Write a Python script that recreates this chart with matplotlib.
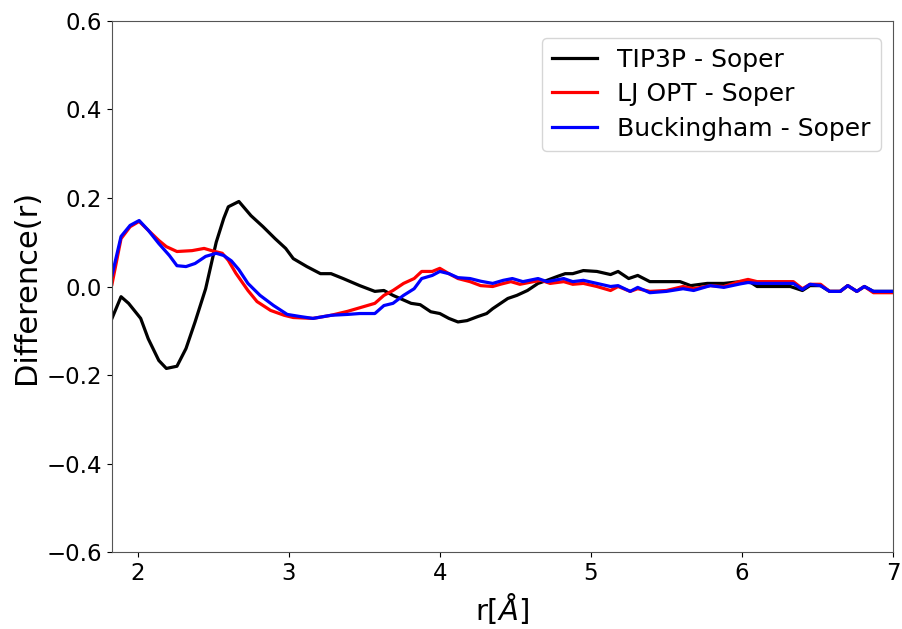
import matplotlib
matplotlib.use("Agg")
import matplotlib.pyplot as plt

# TIP3P - Soper
r_tip3p = [1.83, 1.89, 1.94, 2.02, 2.07, 2.14, 2.19, 2.26, 2.32, 2.38, 2.45, 2.52,
           2.57, 2.60, 2.67, 2.75, 2.83, 2.91, 2.98, 3.03, 3.12, 3.21, 3.28, 3.36,
           3.47, 3.57, 3.63, 3.69, 3.81, 3.87, 3.94, 4.00, 4.06, 4.12, 4.18, 4.25,
           4.31, 4.35, 4.45, 4.51, 4.58, 4.65, 4.71, 4.78, 4.83, 4.88, 4.95, 5.04,
           5.13, 5.18, 5.25, 5.31, 5.39, 5.50, 5.59, 5.66, 5.77, 5.88, 5.99, 6.05,
           6.10, 6.21, 6.32, 6.40, 6.45, 6.52, 6.58, 6.65, 6.70, 6.76, 6.81, 6.87, 7.00]
d_tip3p = [-0.072, -0.023, -0.038, -0.072, -0.118, -0.167, -0.185, -0.18, -0.14, -0.08, -0.005, 0.10,
           0.154, 0.18, 0.192, 0.16, 0.135, 0.108, 0.086, 0.063, 0.045, 0.029, 0.029, 0.018,
           0.002, -0.011, -0.009, -0.02, -0.038, -0.041, -0.057, -0.061, -0.072, -0.08, -0.077, -0.068,
           -0.061, -0.05, -0.027, -0.02, -0.009, 0.007, 0.014, 0.023, 0.029, 0.029, 0.036, 0.034,
           0.027, 0.034, 0.018, 0.025, 0.011, 0.011, 0.011, 0.002, 0.007, 0.007, 0.011, 0.011,
           0.0, 0.0, 0.0, -0.009, 0.002, 0.002, -0.011, -0.011, 0.002, -0.011, 0.0, -0.011, -0.011]

# LJ OPT - Soper
r_lj = [1.83, 1.89, 1.95, 2.01, 2.07, 2.14, 2.19, 2.26, 2.36, 2.44, 2.49, 2.56,
        2.60, 2.65, 2.73, 2.79, 2.88, 2.97, 3.03, 3.16, 3.28, 3.39, 3.47, 3.57,
        3.63, 3.69, 3.76, 3.83, 3.88, 3.95, 4.00, 4.06, 4.12, 4.20, 4.27, 4.35,
        4.40, 4.47, 4.53, 4.62, 4.67, 4.73, 4.82, 4.88, 4.95, 5.04, 5.13, 5.18,
        5.26, 5.31, 5.39, 5.50, 5.61, 5.68, 5.79, 5.88, 5.99, 6.04, 6.10, 6.21,
        6.34, 6.40, 6.45, 6.52, 6.58, 6.65, 6.70, 6.76, 6.81, 6.87, 7.00]
d_lj = [0.005, 0.108, 0.135, 0.147, 0.127, 0.104, 0.09, 0.079, 0.081, 0.086, 0.081, 0.075,
        0.059, 0.03, -0.009, -0.034, -0.054, -0.065, -0.07, -0.072, -0.065, -0.056, -0.048, -0.038,
        -0.02, -0.009, 0.007, 0.018, 0.034, 0.034, 0.041, 0.029, 0.018, 0.011, 0.002, 0.0,
        0.005, 0.011, 0.005, 0.011, 0.014, 0.007, 0.011, 0.005, 0.007, 0.0, -0.009, 0.0,
        -0.011, -0.005, -0.011, -0.009, 0.0, -0.005, 0.002, 0.0, 0.012, 0.016, 0.011, 0.011,
        0.011, -0.005, 0.005, 0.005, -0.011, -0.011, 0.002, -0.011, 0.0, -0.014, -0.014]

# Buckingham - Soper
r_buck = [1.83, 1.89, 1.95, 2.01, 2.07, 2.14, 2.21, 2.26, 2.32, 2.38, 2.45, 2.52,
          2.57, 2.62, 2.67, 2.73, 2.81, 2.90, 2.99, 3.08, 3.16, 3.28, 3.39, 3.47,
          3.57, 3.63, 3.69, 3.76, 3.83, 3.88, 3.95, 4.00, 4.06, 4.12, 4.20, 4.27,
          4.35, 4.42, 4.48, 4.55, 4.65, 4.71, 4.82, 4.88, 4.95, 5.04, 5.13, 5.18,
          5.26, 5.31, 5.39, 5.50, 5.61, 5.68, 5.79, 5.88, 5.99, 6.04, 6.10, 6.34,
          6.40, 6.45, 6.52, 6.58, 6.65, 6.70, 6.76, 6.81, 6.87, 7.00]
d_buck = [0.025, 0.113, 0.138, 0.149, 0.127, 0.097, 0.07, 0.047, 0.045, 0.052, 0.068, 0.075,
          0.07, 0.058, 0.038, 0.007, -0.02, -0.043, -0.063, -0.068, -0.072, -0.065, -0.063, -0.061,
          -0.061, -0.043, -0.038, -0.02, -0.005, 0.018, 0.025, 0.034, 0.029, 0.02, 0.018, 0.012,
          0.007, 0.014, 0.018, 0.011, 0.018, 0.011, 0.018, 0.011, 0.014, 0.007, 0.0, 0.002,
          -0.011, -0.002, -0.014, -0.011, -0.005, -0.009, 0.002, -0.002, 0.006, 0.009, 0.007, 0.007,
          -0.007, 0.005, 0.002, -0.011, -0.011, 0.002, -0.011, 0.0, -0.011, -0.011]

fig = plt.figure(figsize=(9.03, 6.29), dpi=100)
ax = fig.add_axes([0.124, 0.122, 0.865, 0.845])

ax.plot(r_tip3p, d_tip3p, color='black', lw=2.3, label='TIP3P - Soper')
ax.plot(r_lj, d_lj, color='red', lw=2.3, label='LJ OPT - Soper')
ax.plot(r_buck, d_buck, color='blue', lw=2.3, label='Buckingham - Soper')

ax.set_xlim(1.83, 7)
ax.set_ylim(-0.6, 0.6)
ax.set_xticks([2, 3, 4, 5, 6, 7])
ax.set_yticks([-0.6, -0.4, -0.2, 0.0, 0.2, 0.4, 0.6])
ax.tick_params(labelsize=16.5)
ax.set_xlabel(r'r[$\AA$]', fontsize=21)
ax.set_ylabel('Difference(r)', fontsize=22)
for s in ax.spines.values():
    s.set_color('#555555')

ax.legend(loc='upper right', bbox_to_anchor=(1.0, 0.992), fontsize=18,
          labelspacing=0.42, handlelength=1.8)

fig.savefig('out.png', dpi=100)
